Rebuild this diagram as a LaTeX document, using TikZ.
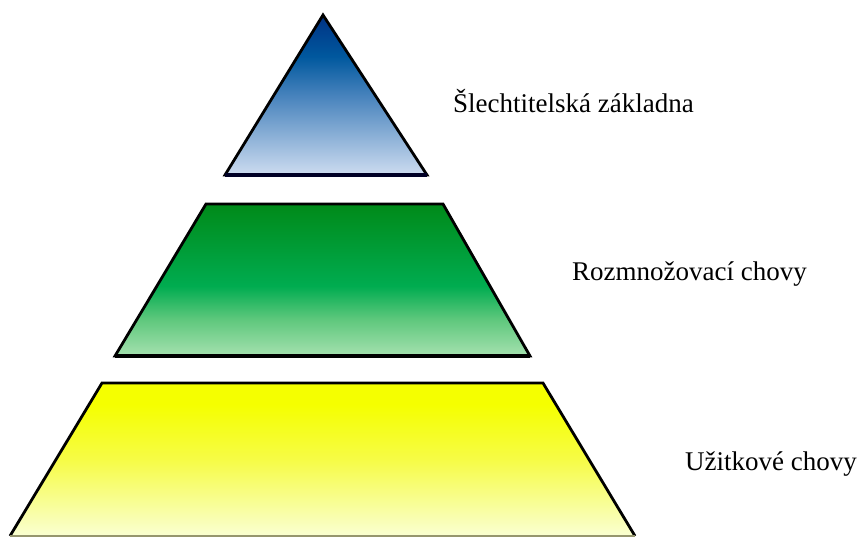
\documentclass[tikz,border=0pt]{standalone}
\usepackage{fontspec}
\setmainfont{Liberation Serif}
\begin{document}
\definecolor{bluetop}{RGB}{0,50,132}
\definecolor{bluedeep}{RGB}{0,88,158}
\definecolor{bluemid}{RGB}{70,130,188}
\definecolor{bluebot}{RGB}{205,220,240}
\definecolor{greentop}{RGB}{0,138,25}
\definecolor{greenmid}{RGB}{0,172,80}
\definecolor{greenlow}{RGB}{95,200,125}
\definecolor{greenbot}{RGB}{165,225,175}
\definecolor{yellowtop}{RGB}{245,255,0}
\definecolor{yellowmid}{RGB}{246,252,70}
\definecolor{yellowbot}{RGB}{250,255,210}
\pgfdeclareverticalshading{blueshade}{100bp}{color(0bp)=(bluebot); color(25bp)=(bluebot); color(50bp)=(bluemid); color(62bp)=(bluedeep); color(75bp)=(bluetop); color(100bp)=(bluetop)}
\pgfdeclareverticalshading{greenshade}{100bp}{color(0bp)=(greenbot); color(25bp)=(greenbot); color(37bp)=(greenlow); color(48bp)=(greenmid); color(75bp)=(greentop); color(100bp)=(greentop)}
\pgfdeclareverticalshading{yellowshade}{100bp}{color(0bp)=(yellowbot); color(25bp)=(yellowbot); color(50bp)=(yellowmid); color(68bp)=(yellowtop); color(100bp)=(yellowtop)}
\begin{tikzpicture}[x=1pt,y=-1pt,
  outline/.style={draw=black,line width=2.8pt,line join=miter},
  baseedge/.style={draw=black,line width=4pt},
  label/.style={anchor=base west,inner sep=0pt,font=\fontsize{27}{32}\selectfont}]
\useasboundingbox (0,0) rectangle (858,539);
% top triangle
\coordinate (tA) at (323,15);
\coordinate (tL) at (225,175);
\coordinate (tR) at (427,175);
\shade[shading=blueshade] (tA) -- (tL) -- (tR) -- cycle;
\draw[outline] (tA) -- (tL) -- (tR) -- cycle;
\draw[baseedge,draw=black!85!blue] (tL) -- (tR);
% middle trapezoid
\coordinate (gTL) at (206,204);
\coordinate (gTR) at (443,204);
\coordinate (gBR) at (530,356);
\coordinate (gBL) at (115,356);
\shade[shading=greenshade] (gTL) -- (gTR) -- (gBR) -- (gBL) -- cycle;
\draw[outline] (gTL) -- (gTR) -- (gBR) -- (gBL) -- cycle;
\draw[baseedge] (gBL) -- (gBR);
% bottom trapezoid
\coordinate (yTL) at (102,383);
\coordinate (yTR) at (543,383);
\coordinate (yBR) at (635,536);
\coordinate (yBL) at (10,536);
\shade[shading=yellowshade] (yTL) -- (yTR) -- (yBR) -- (yBL) -- cycle;
\draw[outline] (yBL) -- (yTL) -- (yTR) -- (yBR);
\draw[line width=2.5pt,draw={rgb,255:red,150;green,150;blue,110}] (yBL) -- (yBR);
% labels
\node[label] (l1) at (453,112) {Šlechtitelská základna};
\node[label] (l2) at (572,280) {Rozmnožovací chovy};
\node[label] (l3) at (685,470) {Užitkové chovy};
\end{tikzpicture}
\end{document}
